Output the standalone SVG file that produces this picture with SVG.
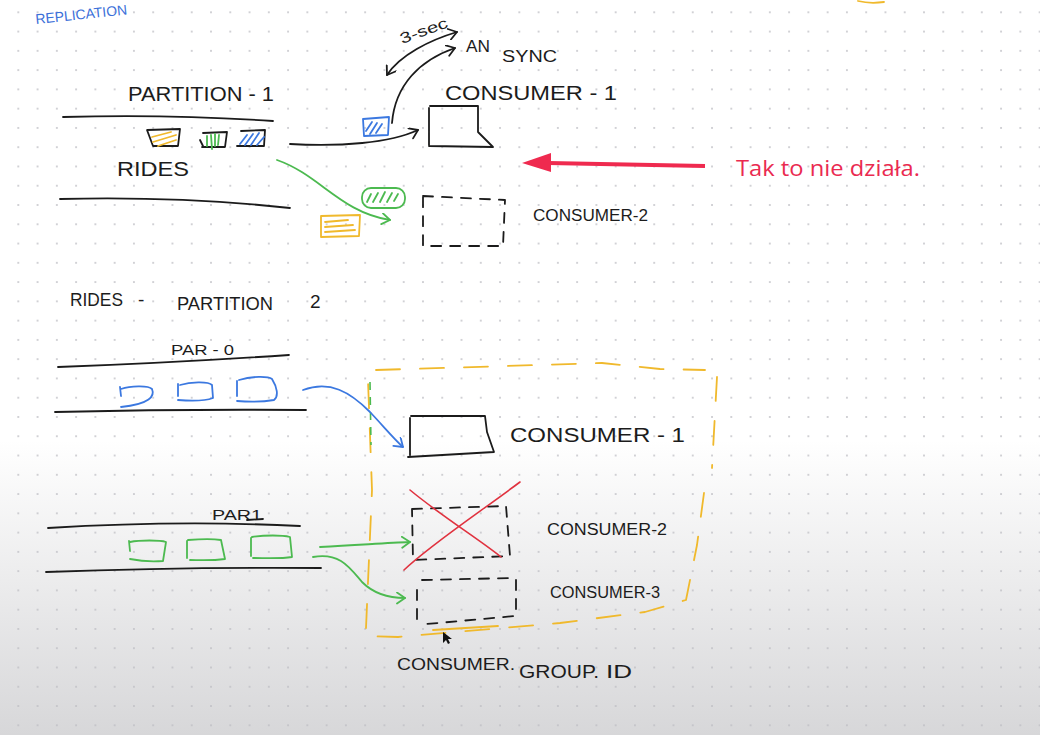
<svg xmlns="http://www.w3.org/2000/svg" width="1040" height="735" viewBox="0 0 1040 735">
<defs>
<linearGradient id="bg" gradientUnits="userSpaceOnUse" x1="0" y1="440" x2="0" y2="735">
<stop offset="0" stop-color="#ffffff"/><stop offset="1" stop-color="#d7d7d9"/>
</linearGradient>
<pattern id="dots" width="19.27" height="19.27" patternUnits="userSpaceOnUse" x="8.67" y="2.67">
<circle cx="9.635" cy="9.635" r="0.9" fill="#bdbdc2"/>
</pattern>
<marker id="ak" markerUnits="userSpaceOnUse" markerWidth="14" markerHeight="14" refX="9" refY="6" orient="auto"><path d="M1,0.5 L9,6 L1,11.5" fill="none" stroke="#1b1b1b" stroke-width="1.8" stroke-linecap="round" stroke-linejoin="round"/></marker>
<marker id="aks" markerUnits="userSpaceOnUse" markerWidth="14" markerHeight="14" refX="1" refY="6" orient="auto"><path d="M9,0.5 L1,6 L9,11.5" fill="none" stroke="#1b1b1b" stroke-width="1.8" stroke-linecap="round" stroke-linejoin="round"/></marker>
<marker id="ag" markerUnits="userSpaceOnUse" markerWidth="14" markerHeight="14" refX="9" refY="6" orient="auto"><path d="M1,0.5 L9,6 L1,11.5" fill="none" stroke="#4cba50" stroke-width="1.8" stroke-linecap="round" stroke-linejoin="round"/></marker>
<marker id="ab" markerUnits="userSpaceOnUse" markerWidth="14" markerHeight="14" refX="9" refY="6" orient="auto"><path d="M1,0.5 L9,6 L1,11.5" fill="none" stroke="#3b78e0" stroke-width="1.8" stroke-linecap="round" stroke-linejoin="round"/></marker>
<style>
.k{fill:none;stroke:#1b1b1b;stroke-width:1.8;stroke-linecap:round;stroke-linejoin:round}
.b{fill:none;stroke:#3b78e0;stroke-width:1.8;stroke-linecap:round;stroke-linejoin:round}
.g{fill:none;stroke:#4cba50;stroke-width:1.8;stroke-linecap:round;stroke-linejoin:round}
.y{fill:none;stroke:#f0b92c;stroke-width:1.8;stroke-linecap:round;stroke-linejoin:round}
.rx{fill:none;stroke:#e0323f;stroke-width:1.6;stroke-linecap:round}
.d{stroke-dasharray:10 9}
.yd{stroke-dasharray:24 20}
.t{font-family:"Liberation Sans",Arial,sans-serif;fill:#1c1c1c;font-size:17px}
</style>
</defs>

<rect width="1040" height="735" fill="#ffffff"/>
<rect width="1040" height="735" fill="url(#bg)"/>
<rect width="1040" height="735" fill="url(#dots)"/>

<text class="t" x="36" y="24" transform="rotate(-6 36 24)" textLength="92" lengthAdjust="spacingAndGlyphs" style="fill:#3b6fd9;font-size:14px">REPLICATION</text>
<path class="y" d="M858,1 Q870,4 884,2"/>

<g id="partition-1">
<text class="t" x="128" y="101" textLength="146" lengthAdjust="spacingAndGlyphs" style="font-size:21px">PARTITION - 1</text>
<path class="k" d="M63,117 Q170,114 273,121"/>
<path class="k" d="M147,130 L180,129 L178,146 L153,146 Z"/>
<path class="y" d="M152,137 L171,132 M153,142 L176,135 M158,146 L176,140"/>
<path class="k" d="M203,133 L227,132 L225,147 L202,147 M200,140 L203,146"/>
<path class="g" d="M207,136 L207,146 M211,135 L212,149 M215,134 L215,146 M219,135 L218,145"/>
<path class="k" d="M241,131 L265,130 L264,146 L237,146"/>
<path class="b" d="M240,144 L247,135 M245,145 L253,134 M251,145 L259,133 M257,145 L264,137"/>
<text class="t" x="117" y="176" textLength="72" lengthAdjust="spacingAndGlyphs" style="font-size:20px">RIDES</text>
<path class="k" d="M60,199 Q180,196 290,208"/>
</g>

<g id="sync-labels">
<text class="t" x="402" y="44" transform="rotate(-20 402 44)" textLength="50" lengthAdjust="spacingAndGlyphs" style="font-size:15px">3-sec</text>
<text class="t" x="466" y="52" textLength="24" lengthAdjust="spacingAndGlyphs" style="font-size:16px">AN</text>
<text class="t" x="502" y="62" textLength="55" lengthAdjust="spacingAndGlyphs" style="font-size:16px">SYNC</text>
</g>

<g id="msg-blue">
<path class="b" d="M363,119 L389,117 L388,135 L364,136 Z"/>
<path class="b" d="M366,131 L372,122 M370,134 L377,123 M376,133 L382,124"/>
</g>
<g id="msg-green-top">
<rect class="g" x="362" y="188" width="43" height="20" rx="9"/>
<path class="g" d="M367,202 L371,194 M373,202 L378,193 M380,202 L385,192 M387,202 L392,193 M394,201 L398,194"/>
</g>
<g id="msg-yellow-top">
<path class="y" d="M321,216 L360,215 L359,236 L321,237 Z"/>
<path class="y" d="M325,222 L348,220 M325,227 L353,225 M325,232 L355,230"/>
</g>

<g id="consumer-1-top">
<text class="t" x="445" y="100" textLength="172" lengthAdjust="spacingAndGlyphs" style="font-size:20px">CONSUMER - 1</text>
<path class="k" d="M429,108 L429,145 M430,106 L478,106 L478,132 L493,147 L429,146"/>
</g>

<g id="consumer-2-top">
<path class="k d" d="M423,196 L505,200 L503,246 L423,246 Z"/>
<text class="t" x="533" y="221" textLength="115" lengthAdjust="spacingAndGlyphs" style="font-size:16px">CONSUMER-2</text>
</g>

<g id="note">
<path d="M705,166 L548,163" stroke="#ef2a4f" stroke-width="4" fill="none"/>
<polygon points="522,163 551,153 551,172" fill="#ef2a4f"/>
<text x="736" y="176" textLength="184" lengthAdjust="spacingAndGlyphs" style="font-family:'Open Sans','Noto Sans',sans-serif;font-size:22px;fill:#ea2a50">Tak to nie działa.</text>
</g>

<g id="partition-2">
<text class="t" y="306" style="font-size:19px"><tspan x="70" textLength="53" lengthAdjust="spacingAndGlyphs">RIDES</tspan><tspan x="138">-</tspan><tspan x="177" y="310" textLength="96" lengthAdjust="spacingAndGlyphs">PARTITION</tspan><tspan x="310" y="308">2</tspan></text>
<text class="t" x="171" y="355" textLength="63" lengthAdjust="spacingAndGlyphs" style="font-size:15px">PAR - 0</text>
<path class="k" d="M58,367 Q170,363 289,355"/>
<path class="b" d="M120,387 L121,396 M121,389 C130,386 148,385 152,389 C155,396 150,404 121,407"/>
<path class="b" d="M178,384 L178,396 M180,385 C190,382 208,381 212,385 L213,398 C205,401 190,401 178,400"/>
<path class="b" d="M237,381 L237,396 M239,380 C252,376 268,376 272,379 C277,387 279,396 274,400 C262,402 250,402 237,401"/>
<path class="k" d="M55,412 Q180,409 306,410"/>
</g>

<g id="partition-par1">
<text class="t" x="212" y="520" textLength="50" lengthAdjust="spacingAndGlyphs" style="font-size:15px">PAR1</text>
<path class="k" d="M247,520 L263,519"/>
<path class="k" d="M48,528 Q180,520 300,526"/>
<path class="g" d="M129,541 L130,551 M130,542 C140,540 160,540 166,542 L163,561 C150,562 140,561 130,559"/>
<path class="g" d="M187,541 L187,558 M188,540 C200,539 215,539 221,540 L225,559 C210,561 198,560 190,560"/>
<path class="g" d="M251,538 L251,556 M252,537 C265,535 282,535 290,537 L292,557 C280,559 265,558 253,558"/>
<path class="k" d="M46,572 Q180,567 321,568"/>
</g>

<g id="consumer-group">
<path class="y yd" d="M376,370 L602,363 L660,369 L705,370 M717,377 L712,468 M704,493 L697,545 L686,600 L645,612 L560,623 L398,637 L366,636 M366,628 L372,490 L368,380"/>
<path d="M370,382 L371,445" stroke="#4cba50" stroke-width="1.6" stroke-dasharray="8 7" fill="none"/>
<path class="y" d="M433,630 L498,626"/>
<text class="t" y="670" style="font-size:16px"><tspan x="397" textLength="118" lengthAdjust="spacingAndGlyphs">CONSUMER.</tspan><tspan x="519" y="678" textLength="80" lengthAdjust="spacingAndGlyphs" style="font-size:18px">GROUP.</tspan><tspan x="606" y="678" textLength="26" lengthAdjust="spacingAndGlyphs" style="font-size:18px">ID</tspan></text>
<path d="M443,632 L443,643 L446,640 L448,644 L450,643 L448,639 L452,639 Z" fill="#111"/>
</g>

<g id="consumer-1">
<path class="k" d="M410,418 L410,455 M411,416 L485,416 L487,432 L494,452 L408,457"/>
<text class="t" x="510" y="442" textLength="175" lengthAdjust="spacingAndGlyphs" style="font-size:20px">CONSUMER - 1</text>
</g>

<g id="consumer-2">
<path class="k d" d="M412,509 L506,506 L510,556 L413,560 Z"/>
<path class="rx" d="M410,490 C440,515 480,540 501,557 M520,482 C480,512 430,545 404,570"/>
<text class="t" x="547" y="535" textLength="120" lengthAdjust="spacingAndGlyphs" style="font-size:16px">CONSUMER-2</text>
</g>

<g id="consumer-3">
<path class="k d" d="M422,580 L512,578 M516,580 L516,610 L515,616 L427,624 M417,590 L417,628"/>
<text class="t" x="550" y="598" textLength="110" lengthAdjust="spacingAndGlyphs" style="font-size:16px">CONSUMER-3</text>
</g>

<g id="connectors">
<path class="k" d="M290,144 C340,147 390,143 418,130" marker-end="url(#ak)"/>
<path class="k" d="M392,123 C395,85 420,60 455,48" marker-end="url(#ak)"/>
<path class="k" d="M457,32 C430,40 400,55 387,75" marker-start="url(#aks)" marker-end="url(#ak)"/>
<path class="g" d="M277,160 C320,175 340,212 390,220" marker-end="url(#ag)"/>
<path class="b" d="M303,390 C330,380 350,392 370,412 C385,428 395,440 403,447" marker-end="url(#ab)"/>
<path class="g" d="M320,547 C360,545 385,543 410,542" marker-end="url(#ag)"/>
<path class="g" d="M313,557 C340,552 350,568 362,582 C375,595 390,598 405,598" marker-end="url(#ag)"/>
</g>
</svg>
